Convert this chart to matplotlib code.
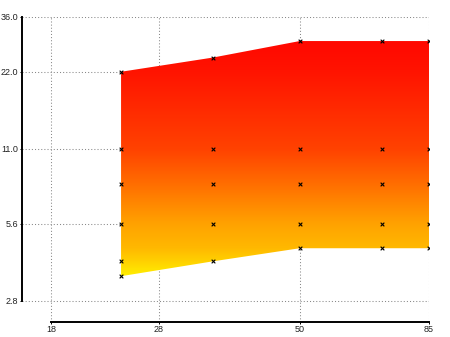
import numpy as np
import matplotlib
matplotlib.use("Agg")
import matplotlib.pyplot as plt
from matplotlib.colors import LinearSegmentedColormap, LogNorm

# sampled points, one list per x position
x_vals = [24, 35, 50, 70, 85]
y_at_24 = [22, 11, 8, 5.6, 4, 3.5]
y_at_35 = [25, 11, 8, 5.6, 4]
y_at_50 = [29, 11, 8, 5.6, 4.5]
y_at_70 = [29, 11, 8, 5.6, 4.5]
y_at_85 = [29, 11, 8, 5.6, 4.5]

x_ticks = [18, 28, 50, 85]
x_ticklabels = ["18", "28", "50", "85"]
y_ticks = [2.8, 5.6, 11.0, 22.0, 36.0]
y_ticklabels = ["2.8", "5.6", "11.0", "22.0", "36.0"]

columns = [y_at_24, y_at_35, y_at_50, y_at_70, y_at_85]
upper = [max(c) for c in columns]
lower = [min(c) for c in columns]

plt.rcParams["font.family"] = ["Liberation Sans", "DejaVu Sans"]

W, H = 450, 337
# plot box in pixels; the tick range sits inside it with a margin left and below
box_l, box_r, box_t, box_b = 22, 429, 17, 322
tick_l, tick_b = 51, 301

fig = plt.figure(figsize=(W / 100, H / 100), dpi=100)
ax = fig.add_axes([box_l / W, 1 - box_b / H, (box_r - box_l) / W, (box_b - box_t) / H])
ax.set_xscale("log")
ax.set_yscale("log")

x_span = np.log(x_ticks[-1] / x_ticks[0])
y_span = np.log(y_ticks[-1] / y_ticks[0])
x_lo = x_ticks[0] * np.exp(-x_span * (tick_l - box_l) / (box_r - tick_l))
y_lo = y_ticks[0] * np.exp(-y_span * (box_b - tick_b) / (tick_b - box_t))
ax.set_xlim(x_lo, x_ticks[-1])
ax.set_ylim(y_lo, y_ticks[-1])

# envelope polygon, filled with a vertical red-to-yellow gradient
poly = ax.fill_between(x_vals, lower, upper, color="none", lw=0)
fire = LinearSegmentedColormap.from_list(
    "fire",
    [(0.0, "#ffee00"), (0.063, "#ffd000"), (0.119, "#ffb800"),
     (0.222, "#ffa200"), (0.391, "#ff6e00"), (0.541, "#ff4200"),
     (0.869, "#ff1400"), (1.0, "#ff0800")],
)
t = np.linspace(0, 1, 512)
ylo, yhi = ax.get_ylim()
y_grid = ylo * (yhi / ylo) ** t
norm = LogNorm(vmin=min(lower), vmax=max(upper))
colors = fire(np.clip(norm(y_grid), 0, 1))[:, None, :]
img = ax.imshow(colors, extent=[0, 1, 0, 1], transform=ax.transAxes,
                origin="lower", aspect="auto", interpolation="bilinear", zorder=1)
img.set_clip_path(poly.get_paths()[0], transform=ax.transData)

for x, col in zip(x_vals, columns):
    ax.scatter([x] * len(col), col, marker="x", s=7, c="black",
               linewidths=0.8, zorder=3)

ax.set_xticks(x_ticks)
ax.set_xticklabels(x_ticklabels)
ax.set_yticks(y_ticks)
ax.set_yticklabels(y_ticklabels)
ax.minorticks_off()
ax.tick_params(axis="both", direction="out", length=1.5, width=0.7,
               labelsize=6.5, labelcolor="#222222", pad=1)
ax.grid(True, color="#888888", linestyle=(0, (1, 2)), linewidth=0.75)
ax.set_axisbelow(True)

for side in ("top", "right"):
    ax.spines[side].set_visible(False)
ax.spines["left"].set_bounds(y_ticks[0], y_ticks[-1])
ax.spines["bottom"].set_bounds(x_ticks[0], x_ticks[-1])
for side in ("left", "bottom"):
    ax.spines[side].set_linewidth(1.4)

fig.savefig("out.png", dpi=100)
